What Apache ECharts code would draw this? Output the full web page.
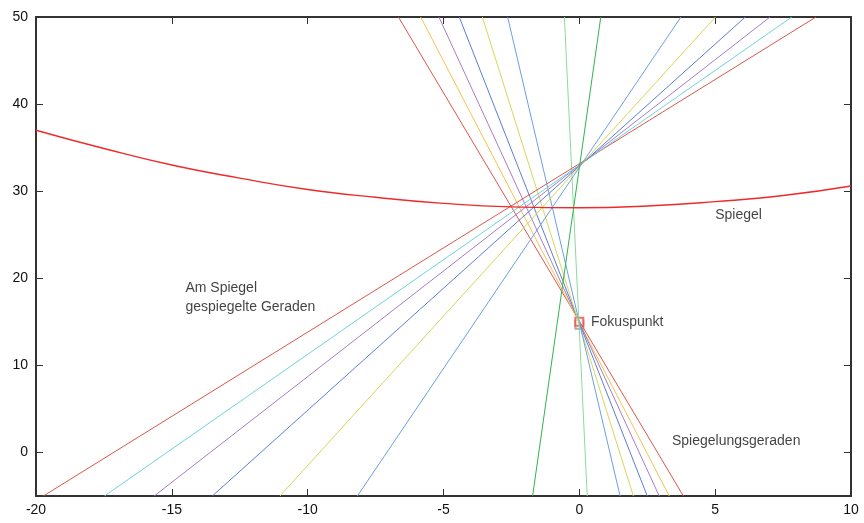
<!DOCTYPE html>
<html>
<head>
<meta charset="utf-8">
<script src="https://cdn.jsdelivr.net/npm/echarts@6/dist/echarts.min.js"></script>
<style>html,body{margin:0;padding:0;background:#fff}#c{width:864px;height:523px}</style>
</head>
<body>
<div id="c"></div>
<script>
// Mirror (Spiegel) curve
const mirrorX = [-20, -17.5, -15, -12.5, -10, -7.5, -5, -2.5, 0, 2.5, 5, 7.5, 10];
const mirrorY = [37.0, 34.9, 33.0, 31.5, 30.2, 29.3, 28.6, 28.2, 28.1, 28.3, 28.8, 29.5, 30.6];
// Lines through the focus (Spiegelungsgeraden): x at y=50 and x at y=-5
const incidentTopX = [-6.66, -5.84, -5.17, -4.42, -3.57, -2.64, -0.55];
const incidentBottomX = [3.83, 3.31, 2.94, 2.50, 1.99, 1.50, 0.29];
// Reflected lines (Am Spiegel gespiegelte Geraden): x at y=50 and x at y=-5
const reflectedTopX = [8.71, 7.82, 7.02, 6.11, 5.01, 3.74, 0.79];
const reflectedBottomX = [-19.73, -17.48, -15.65, -13.51, -11.02, -8.17, -1.72];
const topY = 50, bottomY = -5;
const focus = [0, 15];
const xTicks = [-20, -15, -10, -5, 0, 5, 10];
const yTicks = [0, 10, 20, 30, 40, 50];
const notes = [
  {x: 5.0, y: 27.2, text: 'Spiegel'},
  {x: -14.5, y: 17.8, text: 'Am Spiegel\ngespiegelte Geraden'},
  {x: 0.43, y: 15.0, text: 'Fokuspunkt'},
  {x: 3.41, y: 1.3, text: 'Spiegelungsgeraden'}
];

const incidentColors = ['#d9574c', '#f6c14e', '#a77cc8', '#5b7fcf', '#d6d65a', '#6c9fe2', '#8fd89e'];
const reflectedColors = ['#d9574c', '#6fd2de', '#a77cc8', '#5b7fcf', '#d6d65a', '#6c9fe2', '#2fb44c'];

const FONT = 'Liberation Sans';
const series = [];
incidentTopX.forEach((tx, i) => {
  series.push({type: 'line', symbol: 'none', silent: true, animation: false,
    lineStyle: {color: incidentColors[i], width: 1},
    data: [[tx, topY], [incidentBottomX[i], bottomY]]});
});
reflectedTopX.forEach((tx, i) => {
  series.push({type: 'line', symbol: 'none', silent: true, animation: false,
    lineStyle: {color: reflectedColors[i], width: 1},
    data: [[tx, topY], [reflectedBottomX[i], bottomY]]});
});
series.push({type: 'line', symbol: 'none', smooth: true, animation: false,
  lineStyle: {color: '#ee2a2a', width: 1.4},
  data: mirrorX.map((x, i) => [x, mirrorY[i]])});
series.push({type: 'scatter', symbol: 'emptyRect', symbolSize: 8, symbolOffset: [0, 3], animation: false,
  itemStyle: {color: '#9a9a9a', borderColor: '#9a9a9a', borderWidth: 2}, data: [focus]});
series.push({type: 'scatter', symbol: 'emptyRect', symbolSize: 8, animation: false,
  itemStyle: {color: '#ec4a40', borderColor: '#ec4a40', borderWidth: 2.5}, data: [focus]});
series.push({type: 'scatter', symbolSize: 0, animation: false, silent: true,
  data: notes.map(n => ({value: [n.x, n.y], label: {formatter: n.text}})),
  label: {show: true, position: 'right', distance: 0, color: '#111', fontFamily: FONT, fontSize: 14, lineHeight: 19}});

const axisBase = {
  type: 'value', splitLine: {show: false},
  axisLine: {show: true, onZero: false, lineStyle: {color: '#333', width: 2}},
  axisTick: {show: true, inside: true, length: 7, lineStyle: {color: '#333', width: 1}}
};
const chart = echarts.init(document.getElementById('c'), null, {renderer: 'canvas'});
chart.setOption({
  backgroundColor: '#fff',
  animation: false,
  grid: {left: 36, right: 13, top: 17, bottom: 27, containLabel: false},
  xAxis: [
    Object.assign({}, axisBase, {position: 'bottom', min: -20, max: 10, interval: 5,
      axisLabel: {color: '#111', fontFamily: FONT, fontSize: 14, margin: 7}}),
    Object.assign({}, axisBase, {position: 'top', min: -20, max: 10, interval: 5, axisLabel: {show: false}})
  ],
  yAxis: [
    Object.assign({}, axisBase, {position: 'left', min: -5, max: 50,
      axisTick: {show: true, inside: true, length: 7, customValues: yTicks, lineStyle: {color: '#333', width: 1}},
      axisLabel: {color: '#111', fontFamily: FONT, fontSize: 14, margin: 8, customValues: yTicks}}),
    Object.assign({}, axisBase, {position: 'right', min: -5, max: 50,
      axisTick: {show: true, inside: true, length: 7, customValues: yTicks, lineStyle: {color: '#333', width: 1}},
      axisLabel: {show: false}})
  ],
  series: series
});
</script>
</body>
</html>
